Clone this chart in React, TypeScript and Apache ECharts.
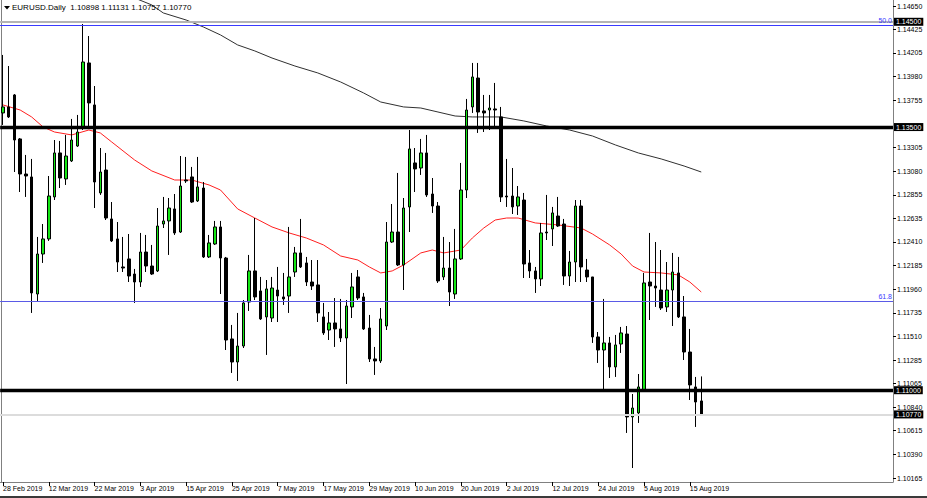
import React, { useEffect, useRef } from "react";
import * as echarts from "echarts";

// Trading days shown (forex daily bars, weekdays only)
const MONTH_DAYS: [string, number[]][] = [
  ["Feb", [28]],
  ["Mar", [1, 4, 5, 6, 7, 8, 11, 12, 13, 14, 15, 18, 19, 20, 21, 22, 25, 26, 27, 28, 29]],
  ["Apr", [1, 2, 3, 4, 5, 8, 9, 10, 11, 12, 15, 16, 17, 18, 19, 22, 23, 24, 25, 26, 29, 30]],
  ["May", [1, 2, 3, 6, 7, 8, 9, 10, 13, 14, 15, 16, 17, 20, 21, 22, 23, 24, 27, 28, 29, 30, 31]],
  ["Jun", [3, 4, 5, 6, 7, 10, 11, 12, 13, 14, 17, 18, 19, 20, 21, 24, 25, 26, 27, 28]],
  ["Jul", [1, 2, 3, 4, 5, 8, 9, 10, 11, 12, 15, 16, 17, 18, 19, 22, 23, 24, 25, 26, 29, 30, 31]],
  ["Aug", [1, 2, 5, 6, 7, 8, 9, 12, 13, 14, 15, 16, 19]],
];
const dates: string[] = MONTH_DAYS.flatMap(([m, ds]) => ds.map((d) => `${d} ${m} 2019`));
const EMPTY_SLOTS = 33; // chart shift space on the right
const categories: string[] = [...dates, ...Array(EMPTY_SLOTS).fill("")];

const open = [
  1.13634, 1.13691, 1.13805, 1.13387, 1.13054, 1.13026, 1.11914, 1.12294, 1.12437, 1.12836,
  1.13254, 1.13007, 1.13178, 1.13320, 1.13501, 1.14109, 1.13710, 1.12874, 1.13092, 1.12627,
  1.12437, 1.12171, 1.12247, 1.12104, 1.12028, 1.12313, 1.12180, 1.12133, 1.12579, 1.12608,
  1.12722, 1.12503, 1.12997, 1.13026, 1.12798, 1.12921, 1.12266, 1.12389, 1.12551, 1.12256,
  1.11487, 1.11268, 1.11420, 1.11838, 1.12133, 1.11943, 1.11696, 1.11686, 1.11952, 1.11886,
  1.11895, 1.12123, 1.12304, 1.12209, 1.12028, 1.12000, 1.11696, 1.11572, 1.11639, 1.11582,
  1.11496, 1.11791, 1.12076, 1.11886, 1.11591, 1.11297, 1.11278, 1.11610, 1.12408, 1.12503,
  1.12190, 1.12741, 1.13159, 1.13111, 1.13254, 1.12864, 1.12750, 1.12076, 1.12161, 1.11914,
  1.12247, 1.12902, 1.13691, 1.13966, 1.13653, 1.13662, 1.13672, 1.13596, 1.12845, 1.12845,
  1.12750, 1.12807, 1.12209, 1.12133, 1.12057, 1.12503, 1.12532, 1.12655, 1.12579, 1.12085,
  1.12218, 1.12750, 1.12142, 1.12076, 1.11506, 1.11382, 1.11449, 1.11221, 1.11439, 1.11534,
  1.10746, 1.10784, 1.11002, 1.12028, 1.11990, 1.11952, 1.11791, 1.11952, 1.12114, 1.11696,
  1.11363, 1.11031, 1.10898,
];
const close = [
  1.13691, 1.13596, 1.13377, 1.13054, 1.13035, 1.11924, 1.12294, 1.12437, 1.12845, 1.13254,
  1.13016, 1.13225, 1.13377, 1.13453, 1.14118, 1.13729, 1.12978, 1.13073, 1.12636, 1.12418,
  1.12218, 1.12161, 1.12085, 1.12028, 1.12313, 1.12180, 1.12104, 1.12560, 1.12608, 1.12731,
  1.12494, 1.12940, 1.12988, 1.12788, 1.12931, 1.12266, 1.12399, 1.12551, 1.12256, 1.11477,
  1.11268, 1.11420, 1.11829, 1.12133, 1.11886, 1.11677, 1.11962, 1.11971, 1.11895, 1.11867,
  1.12076, 1.12304, 1.12171, 1.12028, 1.11990, 1.11734, 1.11544, 1.11639, 1.11582, 1.11496,
  1.11800, 1.11981, 1.11876, 1.11582, 1.11297, 1.11278, 1.11677, 1.12408, 1.12503, 1.12190,
  1.12731, 1.13292, 1.13102, 1.13254, 1.12855, 1.12750, 1.12038, 1.12161, 1.11933, 1.12247,
  1.12902, 1.13662, 1.13976, 1.13643, 1.13634, 1.13681, 1.13662, 1.12836, 1.12836, 1.12741,
  1.12836, 1.12199, 1.12133, 1.12057, 1.12494, 1.12494, 1.12684, 1.12560, 1.12085, 1.12218,
  1.12750, 1.12171, 1.12076, 1.11506, 1.11382, 1.11449, 1.11221, 1.11430, 1.11544, 1.10746,
  1.10831, 1.11031, 1.12019, 1.11990, 1.11971, 1.11781, 1.11952, 1.12123, 1.11696, 1.11363,
  1.11050, 1.10888, 1.10770,
];
const low = [
  1.13520, 1.13586, 1.13073, 1.12883, 1.12836, 1.11734, 1.11838, 1.12209, 1.12418, 1.12807,
  1.12921, 1.12950, 1.13168, 1.13311, 1.13472, 1.13491, 1.12731, 1.12855, 1.12617, 1.12408,
  1.12123, 1.12123, 1.12028, 1.11829, 1.11981, 1.12123, 1.12095, 1.12123, 1.12541, 1.12285,
  1.12475, 1.12494, 1.12969, 1.12779, 1.12788, 1.12256, 1.12256, 1.12380, 1.11914, 1.11382,
  1.11164, 1.11088, 1.11401, 1.11753, 1.11857, 1.11667, 1.11335, 1.11648, 1.11648, 1.11810,
  1.11734, 1.12076, 1.12161, 1.11990, 1.11952, 1.11648, 1.11525, 1.11477, 1.11411, 1.11458,
  1.11059, 1.11686, 1.11857, 1.11572, 1.11268, 1.11145, 1.11259, 1.11572, 1.12399, 1.12180,
  1.11952, 1.12503, 1.12883, 1.13045, 1.12836, 1.12684, 1.12019, 1.12047, 1.11800, 1.11867,
  1.12237, 1.12826, 1.13634, 1.13444, 1.13453, 1.13472, 1.13491, 1.12788, 1.12741, 1.12674,
  1.12665, 1.12066, 1.12066, 1.11924, 1.11990, 1.12427, 1.12370, 1.12551, 1.12000, 1.11990,
  1.12028, 1.12028, 1.12028, 1.11449, 1.11259, 1.11002, 1.11116, 1.11126, 1.11354, 1.10594,
  1.10261, 1.10689, 1.10990, 1.11667, 1.11791, 1.11762, 1.11743, 1.11610, 1.11686, 1.11287,
  1.10907, 1.10651, 1.10757,
];
const high = [
  1.14185, 1.14080, 1.13814, 1.13396, 1.13235, 1.13197, 1.12456, 1.12579, 1.13035, 1.13377,
  1.13368, 1.13425, 1.13577, 1.13615, 1.14479, 1.14365, 1.13890, 1.13301, 1.13254, 1.12788,
  1.12598, 1.12456, 1.12484, 1.12152, 1.12494, 1.12475, 1.12380, 1.12731, 1.12836, 1.12826,
  1.12864, 1.13225, 1.13216, 1.13121, 1.13216, 1.12978, 1.12475, 1.12608, 1.12608, 1.12266,
  1.11620, 1.11734, 1.11857, 1.12285, 1.12636, 1.12076, 1.12047, 1.12076, 1.12171, 1.12114,
  1.12551, 1.12361, 1.12627, 1.12266, 1.12237, 1.12237, 1.11829, 1.11743, 1.11876, 1.11867,
  1.11857, 1.12114, 1.12142, 1.11924, 1.11715, 1.11411, 1.11781, 1.12598, 1.12769, 1.13064,
  1.12826, 1.13472, 1.13301, 1.13387, 1.13425, 1.13016, 1.12788, 1.12456, 1.12408, 1.12532,
  1.13159, 1.13767, 1.14109, 1.14109, 1.13805, 1.13805, 1.13919, 1.13691, 1.13197, 1.13111,
  1.12940, 1.12874, 1.12332, 1.12171, 1.12589, 1.12855, 1.12741, 1.12836, 1.12627, 1.12323,
  1.12807, 1.12807, 1.12247, 1.12076, 1.11553, 1.11867, 1.11506, 1.11525, 1.11601, 1.11610,
  1.10964, 1.11154, 1.12114, 1.12494, 1.12408, 1.12332, 1.12218, 1.12304, 1.12266, 1.11895,
  1.11582, 1.11126, 1.11131,
];

// Moving averages: [bar index, price]
const ma50: [number, number][] = [
  [0, 1.1371], [3, 1.13662], [5, 1.13596], [7, 1.13501], [9, 1.13453], [12, 1.13425],
  [15, 1.13472], [17, 1.13444], [19, 1.13358], [23, 1.13187], [26, 1.13083], [30, 1.12997],
  [33, 1.12997], [36, 1.1295], [38, 1.12902], [41, 1.12722], [44, 1.12636], [47, 1.12551],
  [50, 1.12494], [53, 1.12446], [56, 1.1238], [59, 1.12275], [62, 1.12237], [64, 1.12171],
  [66, 1.12114], [68, 1.12133], [70, 1.1219], [73, 1.12304], [75, 1.12332], [77, 1.12304],
  [80, 1.12332], [82, 1.12446], [84, 1.12541], [86, 1.12617], [88, 1.12636], [90, 1.12636],
  [93, 1.12589], [97, 1.1257], [101, 1.12541], [103, 1.12484], [106, 1.1238], [108, 1.12294],
  [110, 1.1218], [112, 1.12123], [115, 1.12114], [118, 1.12095], [120, 1.12028], [122, 1.11933],
];
const ma200: [number, number][] = [
  [23, 1.14726], [26, 1.1466], [28, 1.14584], [32, 1.14517], [35, 1.14451], [38, 1.14375],
  [41, 1.1428], [44, 1.14223], [47, 1.14156], [51, 1.1408], [55, 1.14014], [59, 1.13928],
  [63, 1.13824], [66, 1.13738], [70, 1.13691], [73, 1.13681], [76, 1.13643], [79, 1.13605],
  [82, 1.13596], [87, 1.13596], [91, 1.13558], [95, 1.1351], [99, 1.13472], [103, 1.13415],
  [107, 1.1333], [111, 1.13254], [115, 1.13197], [119, 1.1313], [122, 1.13073],
];

const yTicks = [
  1.10165, 1.1039, 1.10615, 1.1084, 1.11065, 1.11285, 1.1151, 1.11735, 1.1196, 1.12185,
  1.1241, 1.12635, 1.12855, 1.1308, 1.13305, 1.13755, 1.1398, 1.14205, 1.14425, 1.1465,
];
const Y_MIN = 1.10128;
const Y_MAX = 1.14707;

const levelLines = [1.145, 1.135, 1.11]; // horizontal support / resistance
const fibNames = ["50.0", "61.8"];
const fibValues = [1.14465, 1.11848];

const FONT = "Liberation Sans, Arial, sans-serif";

export default function App() {
  const ref = useRef<HTMLDivElement>(null);

  useEffect(() => {
    if (!ref.current) return;
    const chart = echarts.init(ref.current, undefined, { renderer: "svg" });
    const last = dates.length - 1;
    const lastClose = close[last];
    const ohlc = open.map((o, i) => [o, close[i], low[i], high[i]]);
    const showIdx = (i: number) => i % 8 === 0 && i < dates.length;

    const boxLabel = (v: number) => ({
      show: true,
      position: "end",
      distance: 1,
      formatter: v.toFixed(5),
      color: "#ffffff",
      backgroundColor: "#000000",
      fontSize: 7,
      lineHeight: 8,
      fontFamily: FONT,
      padding: [0, 2, 0, 2],
    });
    const fibLabel = (t: string) => ({
      show: true,
      position: "insideEndTop",
      distance: 1,
      formatter: t,
      color: "#3a3aff",
      fontSize: 7,
      fontFamily: FONT,
    });

    const option: any = {
      animation: false,
      backgroundColor: "#ffffff",
      title: {
        text: `EURUSD.Daily  ${open[last].toFixed(5)} ${high[last].toFixed(5)} ${low[last].toFixed(5)} ${lastClose.toFixed(5)}`,
        left: 12,
        top: 3,
        padding: 0,
        textStyle: { fontSize: 8, fontWeight: "normal", color: "#000", fontFamily: FONT },
      },
      grid: { left: -1, right: 34, top: 0, bottom: 16, containLabel: false },
      xAxis: {
        type: "category",
        data: categories,
        boundaryGap: true,
        axisLine: { show: true, lineStyle: { color: "#808080", width: 1 } },
        axisTick: { show: true, interval: showIdx, alignWithLabel: true, length: 4, lineStyle: { color: "#000" } },
        axisLabel: {
          interval: showIdx,
          align: "left",
          fontSize: 7,
          fontFamily: FONT,
          color: "#000",
          margin: 3,
        },
        splitLine: { show: false },
      },
      yAxis: {
        type: "value",
        position: "right",
        min: Y_MIN,
        max: Y_MAX,
        scale: true,
        splitLine: { show: false },
        axisLine: { show: true, lineStyle: { color: "#808080" } },
        axisTick: { show: true, customValues: yTicks, length: 3, lineStyle: { color: "#000" } },
        axisLabel: {
          customValues: yTicks,
          formatter: (v: number) => v.toFixed(5),
          fontSize: 7,
          lineHeight: 7,
          fontFamily: FONT,
          color: "#000",
          margin: 4,
        },
      },
      series: [
        {
          type: "line",
          data: ma50,
          showSymbol: false,
          lineStyle: { color: "#ff2020", width: 1 },
          z: 1,
          silent: true,
        },
        {
          type: "line",
          data: ma200,
          showSymbol: false,
          lineStyle: { color: "#303030", width: 1 },
          z: 1,
          silent: true,
          clip: true,
        },
        {
          type: "candlestick",
          data: ohlc,
          barWidth: 3,
          z: 2,
          clip: true,
          itemStyle: {
            color: "#14e614",
            color0: "#000000",
            borderColor: "#000000",
            borderColor0: "#000000",
            borderColorDoji: "#000000",
            borderWidth: 1,
          },
          markLine: {
            silent: true,
            precision: 5,
            symbol: ["none", "none"],
            animation: false,
            data: [
              { yAxis: levelLines[0], lineStyle: { color: "#b4b4b4", width: 2, type: "solid" }, label: boxLabel(levelLines[0]) },
              { yAxis: fibValues[0], lineStyle: { color: "#3a3aff", width: 1, type: "solid" }, label: fibLabel(fibNames[0]) },
              { yAxis: levelLines[1], lineStyle: { color: "#000000", width: 3.3, type: "solid" }, label: boxLabel(levelLines[1]) },
              { yAxis: fibValues[1], lineStyle: { color: "#5a5ae6", width: 1, type: "solid" }, label: fibLabel(fibNames[1]) },
              { yAxis: levelLines[2], lineStyle: { color: "#000000", width: 3.3, type: "solid" }, label: boxLabel(levelLines[2]) },
              { yAxis: lastClose, lineStyle: { color: "#dcdcdc", width: 2, type: "solid" }, label: boxLabel(lastClose) },
            ],
          },
        },
      ],
      graphic: [
        { type: "line", shape: { x1: 1.5, y1: 0, x2: 1.5, y2: 482 }, style: { stroke: "#808080", lineWidth: 1 }, silent: true },
        { type: "polygon", shape: { points: [[4, 6], [10, 6], [7, 9.5]] }, style: { fill: "#000" }, silent: true },
        { type: "rect", shape: { x: 0, y: 496, width: 927, height: 2 }, style: { fill: "#3a3a3a" }, silent: true },
      ],
    };
    chart.setOption(option);
    return () => chart.dispose();
  }, []);

  return (
    <div
      ref={ref}
      style={{ position: "fixed", left: 0, top: 0, width: 927, height: 498, background: "#fff" }}
    />
  );
}
